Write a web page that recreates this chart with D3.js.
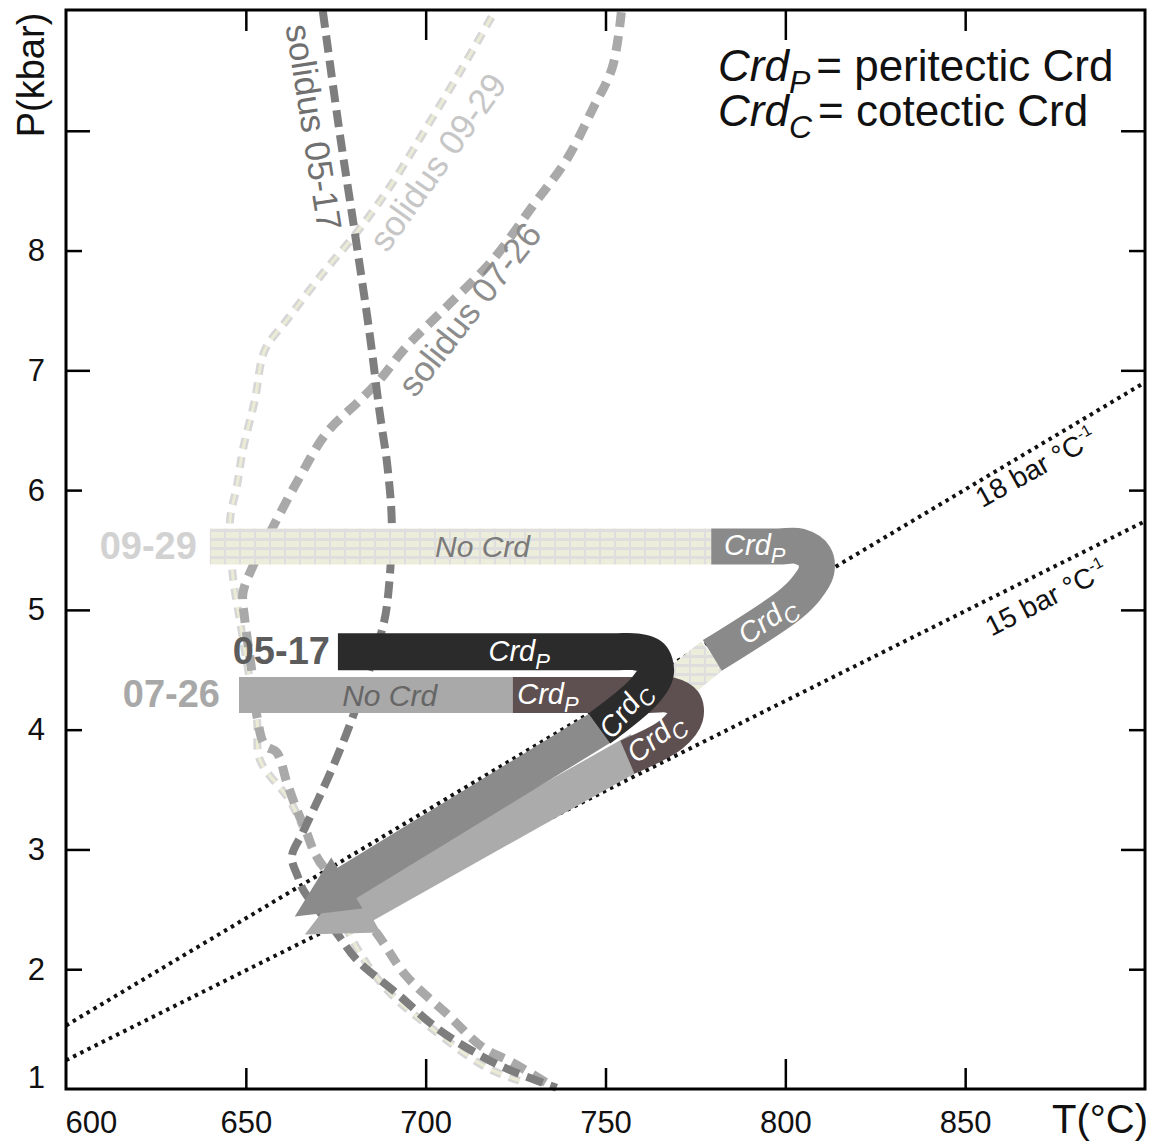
<!DOCTYPE html>
<html>
<head>
<script src="https://cdn.jsdelivr.net/npm/d3@7"></script>
<style>
  html, body { margin: 0; padding: 0; background: #fff; }
  svg text { font-family: "Liberation Sans", Arial, sans-serif; }
</style>
</head>
<body>
<script>
var width = 1153, height = 1144;

// ---- data (T in °C, P in kbar) ----
var tempTicks = [600, 650, 700, 750, 800, 850];
var presTicks = [1, 2, 3, 4, 5, 6, 7, 8];

var solidus0517 = [[671.4,10.0],[676.1,8.98],[680.3,8.15],[684.4,7.31],[687.2,6.65],[689.4,6.19],[690.6,5.69],
  [689.4,5.08],[688.1,4.86],[679.4,4.08],[674.2,3.69],[670.0,3.41],[665.8,3.14],[662.8,2.94],[664.5,2.77],
  [666.0,2.66],[675.3,2.30],[680.8,2.08],[691.9,1.80],[703.9,1.49],[715.8,1.27],[723.3,1.16],[736.4,1.01]];
var solidus0726 = [[754.4,9.99],[751.9,9.53],[746.4,9.18],[739.2,8.76],[729.7,8.37],[718.6,7.92],[705.8,7.53],
  [694.7,7.20],[687.2,6.92],[681.7,6.75],[672.5,6.48],[665.0,6.11],[657.5,5.69],[651.9,5.36],[649.2,5.14],
  [649.7,4.92],[651.7,4.48],[653.1,4.11],[655.3,3.87],[658.6,3.81],[661.4,3.56],[664.2,3.33],[666.9,3.14],
  [669.7,2.94],[686.4,2.30],[694.7,1.94],[705.8,1.63],[715.8,1.35],[724.2,1.22],[735.3,1.02]];
var solidus0929 = [[718.3,9.95],[710.3,9.53],[701.1,9.07],[690.0,8.53],[680.8,8.15],[671.4,7.81],[661.4,7.42],
  [655.3,7.17],[652.5,6.75],[649.2,6.34],[647.5,6.03],[645.6,5.75],[646.4,5.28],[648.3,4.92],[651.1,4.42],
  [653.1,4.08],[653.9,3.75],[662.2,3.41],[665.8,3.19],[669.7,2.94],[679.7,2.24],[689.2,1.83],[701.1,1.52],
  [716.9,1.18],[728.1,1.05]];

var geothermT = [600, 900];
var geotherm18P = [1.53, 6.90];
var geotherm15P = [1.24, 5.74];

// P-T paths, split where the Crd stage changes
var path0929NoCrd = [[640.0,5.53],[779.4,5.53]];
var path0929Crd = [[779.4,5.53],[798.0,5.53],[803.9,5.53],[808.1,5.45],[808.6,5.32],[805.6,5.17],[801.1,5.04],[779.7,4.62]];
var path0929Late = [[779.7,4.62],[767.8,4.33]];
var path0517Crd = [[675.6,4.65],[752.0,4.65],[758.3,4.65],[762.6,4.61],[763.9,4.48],[760.8,4.32],[748.3,4.01]];
var path0726NoCrd = [[648.1,4.29],[724.2,4.29]];
var path0726Crd = [[724.2,4.29],[762.0,4.29],[767.8,4.29],[771.7,4.23],[772.2,4.11],[768.3,3.96],[756.1,3.77]];

// decompression arrows: start, head base, tip
var arrowDark = [[751.0,4.06],[678.1,2.72],[663.6,2.44]];
var arrowLight = [[759.5,3.83],[683.1,2.54],[666.4,2.29]];

var x = d3.scaleLinear().domain([600, 900]).range([66, 1145]);
var y = d3.scaleLinear().domain([1, 10]).range([1089, 11]);

var svg = d3.select("body").append("svg")
  .attr("width", width)
  .attr("height", height);

// pattern for the 09-29 No Crd band
var defs = svg.append("defs");
var pat = defs.append("pattern")
  .attr("id", "grid")
  .attr("patternUnits", "userSpaceOnUse")
  .attr("width", 15).attr("height", 9);
pat.append("rect").attr("width", 15).attr("height", 9).attr("fill", "#dedede");
pat.append("rect").attr("x", 1).attr("y", 1).attr("width", 13).attr("height", 6).attr("fill", "#ededdb");

var line = d3.line()
  .x(function(d) { return x(d[0]); })
  .y(function(d) { return y(d[1]); });
var smooth = d3.line()
  .x(function(d) { return x(d[0]); })
  .y(function(d) { return y(d[1]); })
  .curve(d3.curveCatmullRom.alpha(0.5));

// ---- geotherms ----
[geotherm18P, geotherm15P].forEach(function(p) {
  svg.append("path")
    .attr("d", line([[geothermT[0], p[0]], [geothermT[1], p[1]]]))
    .attr("fill", "none")
    .attr("stroke", "#111")
    .attr("stroke-width", 4)
    .attr("stroke-dasharray", "3.5,4.5");
});

// ---- solidus curves ----
svg.append("path").attr("d", smooth(solidus0929))
  .attr("fill", "none").attr("stroke", "#d6d6d6").attr("stroke-width", 8)
  .attr("stroke-dasharray", "11,8");
svg.append("path").attr("d", smooth(solidus0929))
  .attr("fill", "none").attr("stroke", "#ececd6").attr("stroke-width", 3)
  .attr("stroke-dasharray", "11,8");
svg.append("path").attr("d", smooth(solidus0726))
  .attr("fill", "none").attr("stroke", "#a9a9a9").attr("stroke-width", 9)
  .attr("stroke-dasharray", "15,9");
svg.append("path").attr("d", smooth(solidus0517))
  .attr("fill", "none").attr("stroke", "#7e7e7e").attr("stroke-width", 8)
  .attr("stroke-dasharray", "17,8");

var solLabels = [
  {text: "solidus 05-17", T: 668.9, P: 9.03, angle: 81, color: "#707070"},
  {text: "solidus 09-29", T: 703.3, P: 8.74, angle: -54.5, color: "#c6c6c6"},
  {text: "solidus 07-26", T: 712.2, P: 7.51, angle: -52, color: "#8c8c8c"}
];
solLabels.forEach(function(d) {
  svg.append("text")
    .attr("transform", "translate(" + x(d.T) + "," + y(d.P) + ") rotate(" + d.angle + ")")
    .attr("text-anchor", "middle")
    .attr("dy", "0.35em")
    .attr("font-size", 35)
    .attr("fill", d.color)
    .text(d.text);
});

// ---- P-T paths ----
function band(pts, stroke, w) {
  svg.append("path")
    .attr("d", smooth(pts))
    .attr("fill", "none")
    .attr("stroke", stroke)
    .attr("stroke-width", w)
    .attr("stroke-linejoin", "round")
    .attr("stroke-linecap", "butt");
}

function arrow(a, color, w, head) {
  var s = [x(a[0][0]), y(a[0][1])],
      b = [x(a[1][0]), y(a[1][1])],
      t = [x(a[2][0]), y(a[2][1])];
  var dx = b[0] - s[0], dy = b[1] - s[1], len = Math.sqrt(dx * dx + dy * dy);
  var px = -dy / len, py = dx / len;
  var pts = [
    [s[0] + px * w / 2, s[1] + py * w / 2],
    [b[0] + px * w / 2, b[1] + py * w / 2],
    [b[0] + px * head, b[1] + py * head],
    t,
    [b[0] - px * head, b[1] - py * head],
    [b[0] - px * w / 2, b[1] - py * w / 2],
    [s[0] - px * w / 2, s[1] - py * w / 2]
  ];
  svg.append("polygon")
    .attr("points", pts.map(function(p) { return p.join(","); }).join(" "))
    .attr("fill", color);
}

band(path0929NoCrd, "url(#grid)", 36);
band(path0929Late, "url(#grid)", 36);
band(path0929Crd, "#8a8a8a", 36);

arrow(arrowLight, "#ababab", 36, 32);
arrow(arrowDark, "#8b8b8b", 36, 30);

band(path0726NoCrd, "#a9a9a9", 36);
band(path0726Crd, "#5e5050", 36);
band(path0517Crd, "#2b2b2b", 37);

// sample names
var sampleLabels = [
  {text: "09-29", start: path0929NoCrd[0], gap: 13, color: "#d2d2d2"},
  {text: "05-17", start: path0517Crd[0], gap: 8, color: "#5c5c5c"},
  {text: "07-26", start: path0726NoCrd[0], gap: 19, color: "#a8a8a8"}
];
sampleLabels.forEach(function(d) {
  svg.append("text")
    .attr("x", x(d.start[0]) - d.gap)
    .attr("y", y(d.start[1]))
    .attr("dy", "0.33em")
    .attr("text-anchor", "end")
    .attr("font-size", 38)
    .attr("font-weight", "bold")
    .attr("fill", d.color)
    .text(d.text);
});

// stage labels on the paths
function crd(px, py, sub, angle, fill) {
  var t = svg.append("text")
    .attr("transform", "translate(" + px + "," + py + ") rotate(" + angle + ")")
    .attr("text-anchor", "middle")
    .attr("font-style", "italic")
    .attr("font-size", 29)
    .attr("fill", fill)
    .attr("dy", "0.3em");
  t.append("tspan").text("Crd");
  t.append("tspan").attr("font-size", 22).attr("dy", 8).text(sub);
}

var noCrd = [[715.8, 5.53, "#7a7a7a"], [690.0, 4.29, "#666"]];
noCrd.forEach(function(d) {
  svg.append("text")
    .attr("x", x(d[0])).attr("y", y(d[1]))
    .attr("dy", "0.36em")
    .attr("text-anchor", "middle")
    .attr("font-style", "italic")
    .attr("font-size", 30)
    .attr("fill", d[2])
    .text("No Crd");
});

crd(x(791.5), y(5.53), "P", 0, "#fff");
crd(x(726.0), y(4.65), "P", 0, "#fff");
crd(x(734.0), y(4.29), "P", 0, "#fff");
crd(x(795.0), y(4.91), "C", -35, "#fff");
crd(x(755.5), y(4.16), "C", -52, "#fff");
crd(x(764.0), y(3.93), "C", -38, "#fff");

// geotherm labels
var geoLabels = [
  {num: "18", T: 869.6, P: 6.19, angle: -29},
  {num: "15", T: 872.5, P: 5.10, angle: -27}
];
geoLabels.forEach(function(d) {
  var t = svg.append("text")
    .attr("transform", "translate(" + x(d.T) + "," + y(d.P) + ") rotate(" + d.angle + ")")
    .attr("text-anchor", "middle")
    .attr("dy", "0.35em")
    .attr("font-size", 28)
    .attr("fill", "#111");
  t.append("tspan").text(d.num + " bar °C");
  t.append("tspan").attr("font-size", 16).attr("dy", -12).text("-1");
});

// ---- axes ----
function ticks(axis, tr, vals, size) {
  var g = svg.append("g").attr("transform", tr)
    .call(axis.tickValues(vals).tickSize(size).tickFormat(""));
  g.select(".domain").remove();
  g.selectAll(".tick line").attr("stroke", "#000").attr("stroke-width", 2.5);
}
ticks(d3.axisBottom(x), "translate(0,1089)", [700, 800], -30);
ticks(d3.axisBottom(x), "translate(0,1089)", [650, 750, 850], -21);
ticks(d3.axisTop(x), "translate(0,10)", [700, 800], -30);
ticks(d3.axisTop(x), "translate(0,10)", [650, 750, 850], -21);
ticks(d3.axisLeft(y), "translate(66,0)", [3, 5, 7, 9], -24);
ticks(d3.axisLeft(y), "translate(66,0)", [2, 4, 6, 8], -16);
ticks(d3.axisRight(y), "translate(1145,0)", [3, 5, 7, 9], -24);
ticks(d3.axisRight(y), "translate(1145,0)", [2, 4, 6, 8], -16);

svg.append("rect")
  .attr("x", 66).attr("y", 10)
  .attr("width", 1145 - 66).attr("height", 1089 - 10)
  .attr("fill", "none")
  .attr("stroke", "#000")
  .attr("stroke-width", 3);

var xLab = svg.append("g").attr("transform", "translate(0,1089)")
  .call(d3.axisBottom(x).tickValues(tempTicks).tickSize(0).tickPadding(22));
xLab.select(".domain").remove();
xLab.selectAll("text")
  .attr("font-size", 31)
  .attr("fill", "#111")
  .attr("font-family", "Liberation Sans, Arial, sans-serif")
  .filter(function(d) { return d === 600; })
  .attr("text-anchor", "start")
  .attr("x", -1);

var yLab = svg.append("g").attr("transform", "translate(66,0)")
  .call(d3.axisLeft(y).tickValues(presTicks).tickSize(0).tickPadding(21));
yLab.select(".domain").remove();
yLab.selectAll("text")
  .attr("font-size", 31)
  .attr("fill", "#111")
  .attr("font-family", "Liberation Sans, Arial, sans-serif")
  .filter(function(d) { return d === 1; })
  .attr("y", -11);

svg.append("text")
  .attr("transform", "translate(44,75) rotate(-90)")
  .attr("text-anchor", "middle")
  .attr("font-size", 38)
  .attr("fill", "#111")
  .text("P(kbar)");

svg.append("text")
  .attr("x", 1148).attr("y", 1133)
  .attr("text-anchor", "end")
  .attr("font-size", 40)
  .attr("fill", "#111")
  .text("T(°C)");

// ---- legend ----
var legend = [["P", "= peritectic Crd"], ["C", "= cotectic Crd"]];
legend.forEach(function(d, i) {
  var t = svg.append("text")
    .attr("x", 718).attr("y", 81 + i * 45)
    .attr("font-size", 44)
    .attr("fill", "#111");
  t.append("tspan").attr("font-style", "italic").text("Crd");
  t.append("tspan").attr("font-style", "italic").attr("font-size", 32).attr("dy", 12).text(d[0]);
  t.append("tspan").attr("dy", -12).attr("dx", 6).text(d[1]);
});
</script>
</body>
</html>
